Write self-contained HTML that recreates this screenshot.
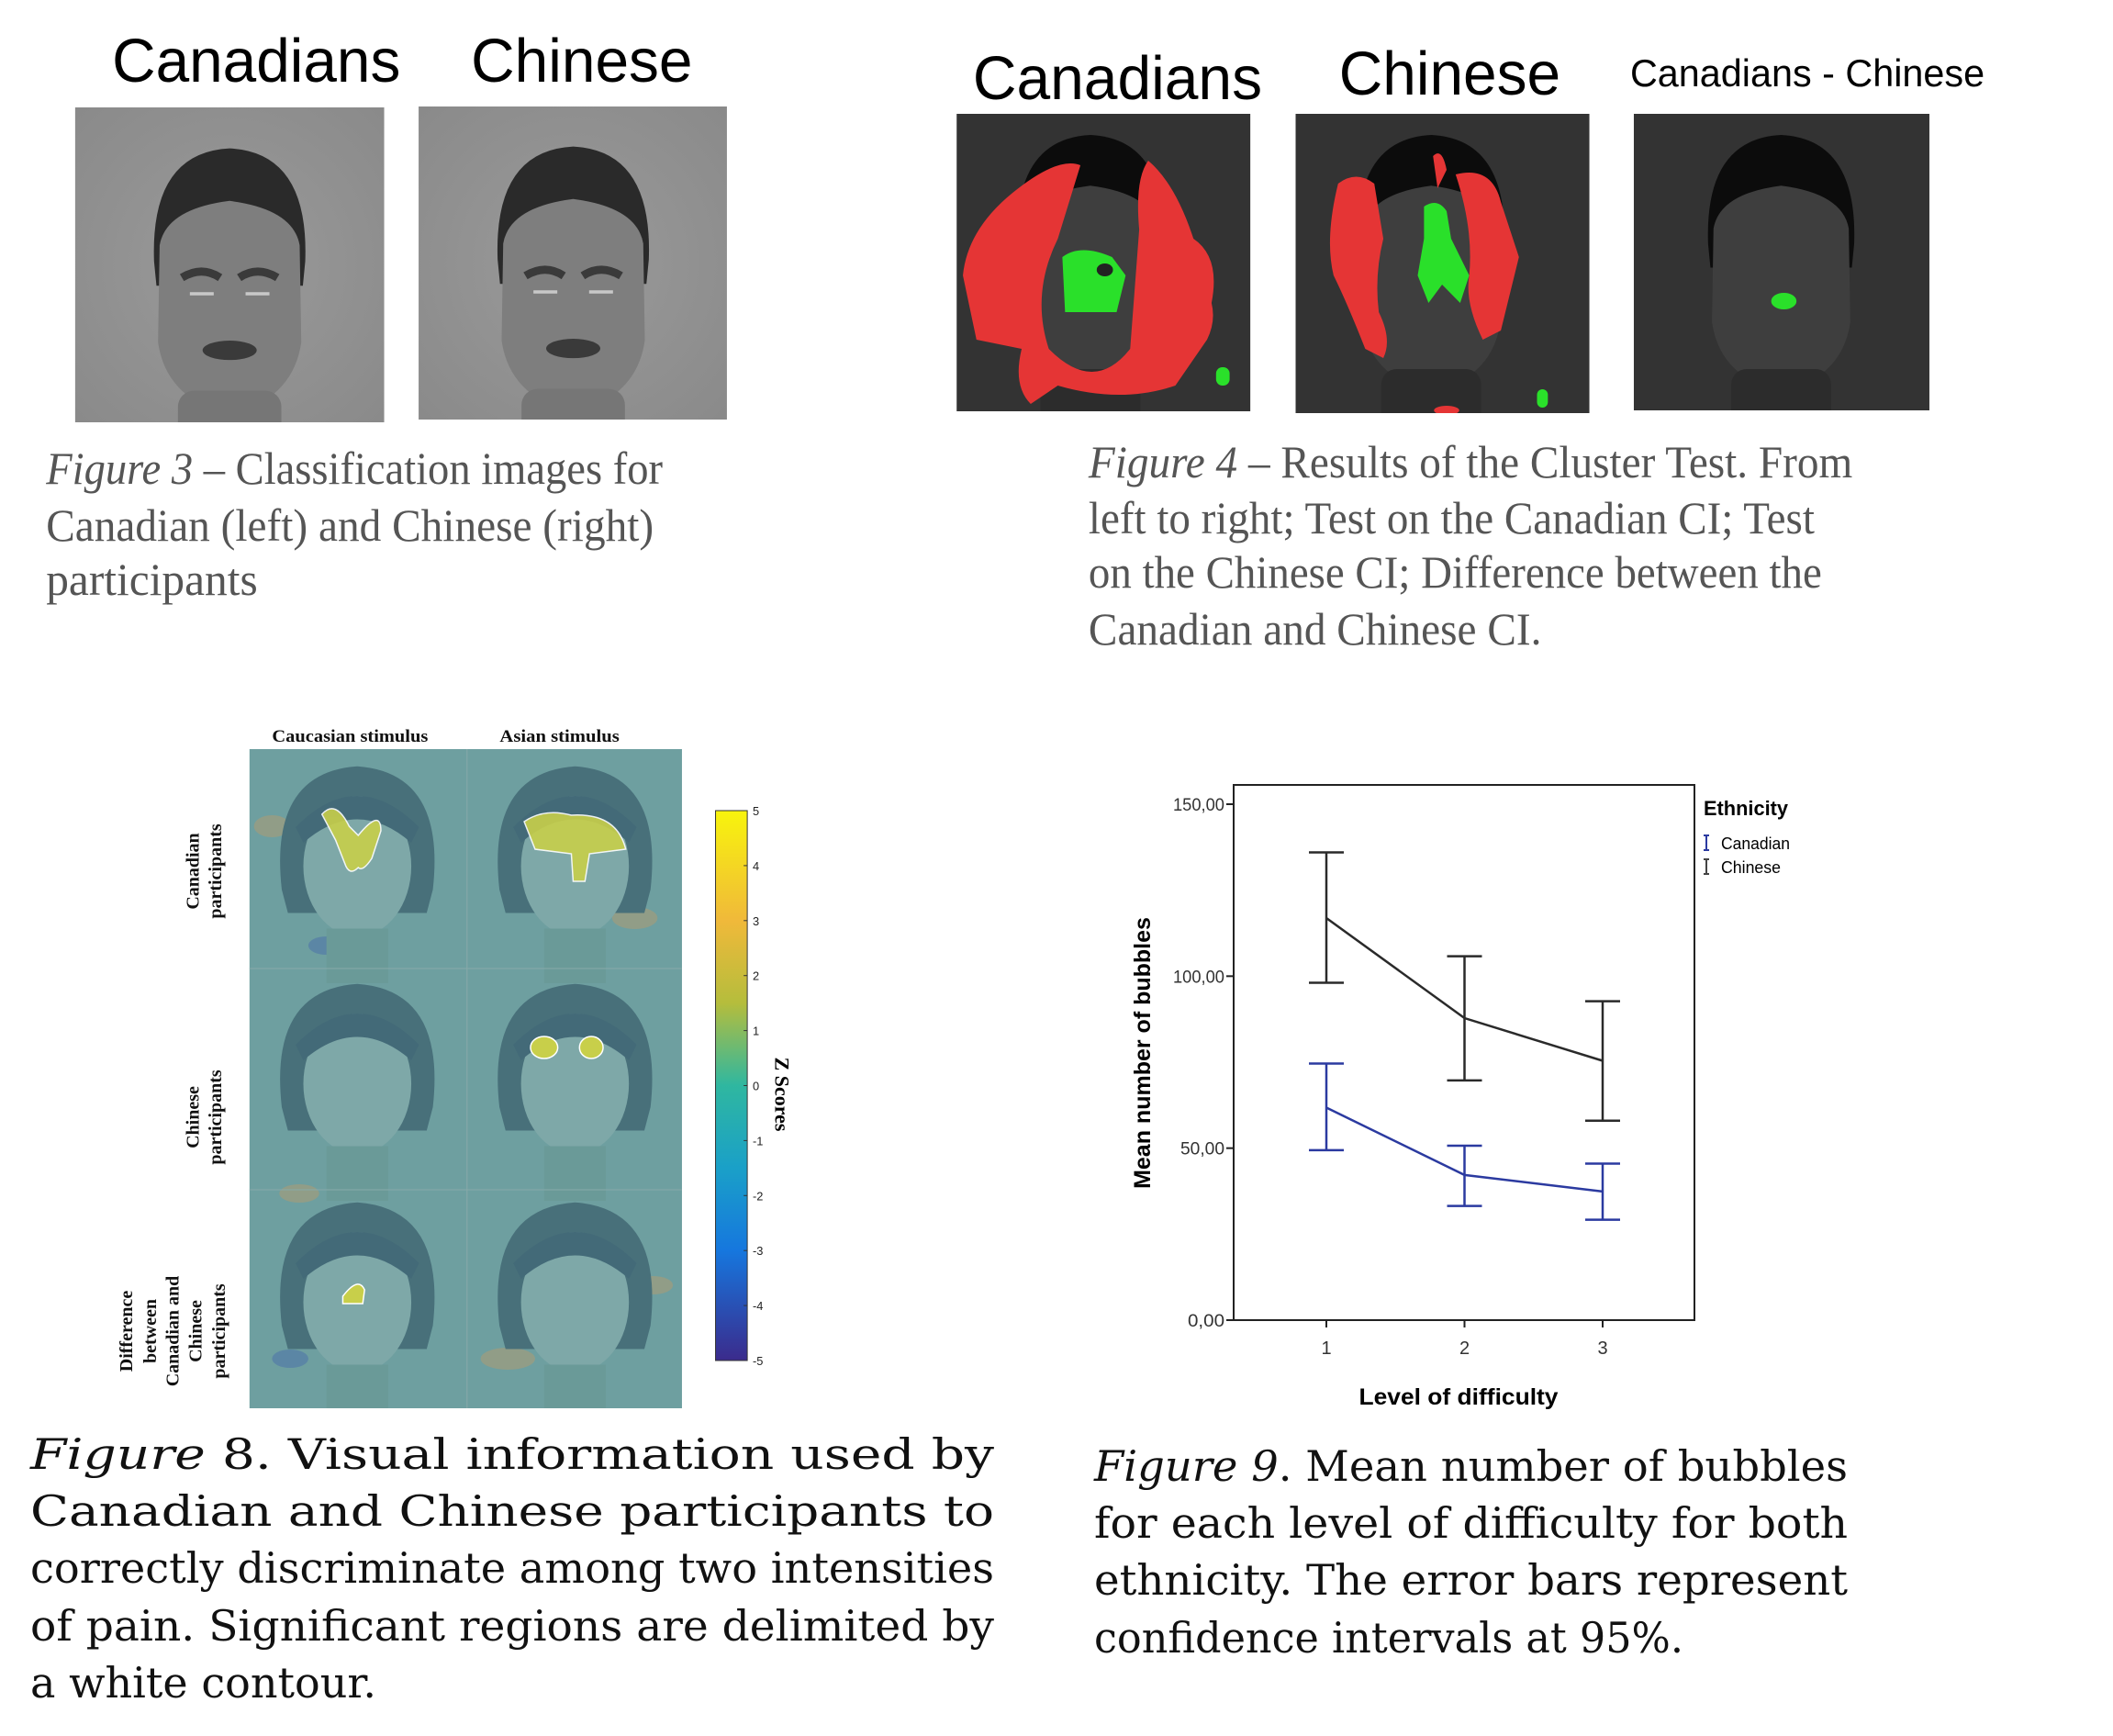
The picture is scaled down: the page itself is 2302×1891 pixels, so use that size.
<!DOCTYPE html>
<html><head><meta charset="utf-8"><style>html,body{margin:0;padding:0;background:#fff}svg{display:block}</style></head>
<body>
<svg id="page" width="2302" height="1891" viewBox="0 0 2302 1891" xmlns="http://www.w3.org/2000/svg">
<defs>
  <linearGradient id="cbar" x1="0" y1="0" x2="0" y2="1">
    <stop offset="0" stop-color="#f8f40c"/><stop offset="0.2" stop-color="#f0b93a"/><stop offset="0.35" stop-color="#b5bd3c"/>
    <stop offset="0.5" stop-color="#2fb7a0"/><stop offset="0.65" stop-color="#1aa0c8"/><stop offset="0.8" stop-color="#1677de"/><stop offset="1" stop-color="#3b2b8c"/>
  </linearGradient>
  <radialGradient id="fig3bg" cx="0.5" cy="0.5" r="0.7"><stop offset="0" stop-color="#9a9a9a"/><stop offset="1" stop-color="#8a8a8a"/></radialGradient>
  <clipPath id="c3a"><rect x="83" y="117" width="342" height="343"/></clipPath>
  <clipPath id="c3b"><rect x="463" y="116" width="341" height="341"/></clipPath>
  <clipPath id="c4a"><rect x="1058" y="124" width="325" height="324"/></clipPath>
  <clipPath id="c4b"><rect x="1433" y="124" width="325" height="326"/></clipPath>
  <clipPath id="c4c"><rect x="1807" y="124" width="327" height="323"/></clipPath>
  <clipPath id="c8"><rect x="275" y="816" width="477" height="718"/></clipPath>
  <g id="grayface">
    <path d="M-95,-40 Q-100,-175 0,-180 Q100,-175 95,-40 L92,-10 L-92,-10 Z" fill="#2a2a2a"/>
    <path d="M-88,-60 Q-80,-105 0,-115 Q80,-105 88,-60 L90,60 Q80,130 0,150 Q-80,130 -90,60 Z" fill="#7e7e7e"/>
    <rect x="-65" y="120" width="130" height="110" rx="20" fill="#767676"/>
    <path d="M-60,-20 Q-35,-35 -12,-20 M12,-20 Q35,-35 60,-20" stroke="#3a3a3a" stroke-width="10" fill="none"/>
    <path d="M-50,0 h30 M20,0 h30" stroke="#c8c8c8" stroke-width="4"/>
    <ellipse cx="0" cy="70" rx="34" ry="12" fill="#3a3a3a"/>
  </g>
  <g id="darkface">
    <path d="M-95,-40 Q-100,-175 0,-180 Q100,-175 95,-40 L92,-10 L-92,-10 Z" fill="#0c0c0c"/>
    <path d="M-88,-60 Q-80,-105 0,-115 Q80,-105 88,-60 L90,60 Q80,130 0,150 Q-80,130 -90,60 Z" fill="#3e3e3e"/>
    <rect x="-65" y="120" width="130" height="110" rx="20" fill="#2c2c2c"/>
  </g>
  <g id="hairface">
    <path d="M-98,40 Q-115,-110 0,-118 Q115,-110 98,40 L90,70 L-90,70 Z" fill="#48707a"/>
    <ellipse cx="0" cy="10" rx="70" ry="90" fill="#7ea8a8"/>
    <rect x="-40" y="90" width="80" height="70" fill="#6a9a98"/>
    <path d="M-80,-40 Q0,-120 80,-40 L70,-20 Q0,-80 -70,-20 Z" fill="#436a78"/>
  </g>
</defs>

<!-- Figure 3 -->
<g transform="scale(0.985,1)">
  <text x="124" y="89" font-family="Liberation Sans, sans-serif" font-size="67" textLength="319" lengthAdjust="spacingAndGlyphs">Canadians</text>
  <text x="521" y="89" font-family="Liberation Sans, sans-serif" font-size="67" textLength="245" lengthAdjust="spacingAndGlyphs">Chinese</text>
  <g clip-path="url(#c3a)">
    <rect x="83" y="117" width="342" height="343" fill="url(#fig3bg)"/>
    <use href="#grayface" transform="translate(254,320) scale(0.88)"/>
  </g>
  <g clip-path="url(#c3b)">
    <rect x="463" y="116" width="341" height="341" fill="url(#fig3bg)"/>
    <use href="#grayface" transform="translate(634,318) scale(0.88)"/>
  </g>
  <g font-family="Liberation Serif, serif" font-size="50" fill="#555">
    <text x="51" y="527" textLength="682" lengthAdjust="spacingAndGlyphs"><tspan font-style="italic">Figure 3</tspan> – Classification images for</text>
    <text x="51" y="589" textLength="672" lengthAdjust="spacingAndGlyphs">Canadian (left) and Chinese (right)</text>
    <text x="51" y="648" textLength="234" lengthAdjust="spacingAndGlyphs">participants</text>
  </g>
</g>

<!-- Figure 4 -->
<g transform="scale(0.985,1)">
  <text x="1076" y="108" font-family="Liberation Sans, sans-serif" font-size="67" textLength="320" lengthAdjust="spacingAndGlyphs">Canadians</text>
  <text x="1481" y="103" font-family="Liberation Sans, sans-serif" font-size="67" textLength="245" lengthAdjust="spacingAndGlyphs">Chinese</text>
  <text x="1803" y="94" font-family="Liberation Sans, sans-serif" font-size="42" textLength="392" lengthAdjust="spacingAndGlyphs">Canadians - Chinese</text>
  <g clip-path="url(#c4a)">
    <rect x="1058" y="124" width="325" height="324" fill="#333"/>
    <use href="#darkface" transform="translate(1206,300) scale(0.85)"/>
    <path d="M1120,210 Q1170,170 1195,180 L1170,260 Q1140,320 1160,380 Q1210,430 1250,380 L1260,250 Q1255,195 1270,175 Q1300,200 1320,260 Q1350,280 1340,330 Q1345,350 1335,370 L1300,420 Q1240,440 1170,420 L1140,440 Q1120,420 1130,380 L1080,370 L1065,300 Q1070,250 1120,210 Z" fill="#e53535"/>
    <path d="M1175,280 Q1195,265 1230,280 L1245,300 L1235,340 L1178,340 Z" fill="#2ae02a"/>
    <ellipse cx="1222" cy="294" rx="9" ry="7" fill="#222"/>
    <rect x="1345" y="400" width="15" height="20" rx="7" fill="#2ae02a"/>
  </g>
  <g clip-path="url(#c4b)">
    <rect x="1433" y="124" width="325" height="326" fill="#333"/>
    <use href="#darkface" transform="translate(1583,300) scale(0.85)"/>
    <path d="M1480,200 Q1500,185 1520,200 L1530,260 Q1520,300 1525,340 Q1540,370 1530,390 L1510,380 Q1490,330 1475,300 Q1465,260 1480,200 Z M1610,190 Q1650,180 1660,220 L1680,280 Q1670,320 1660,360 L1640,370 Q1620,330 1625,300 Q1630,250 1610,190 Z M1585,170 Q1595,160 1600,185 L1590,205 Z" fill="#e53535"/>
    <path d="M1575,225 Q1590,215 1600,230 L1605,260 L1625,300 L1615,330 L1595,310 L1580,330 L1568,300 L1575,260 Z" fill="#2ae02a"/>
    <rect x="1700" y="424" width="12" height="20" rx="6" fill="#2ae02a"/>
    <ellipse cx="1600" cy="447" rx="14" ry="5" fill="#e53535"/>
  </g>
  <g clip-path="url(#c4c)">
    <rect x="1807" y="124" width="327" height="323" fill="#333"/>
    <use href="#darkface" transform="translate(1970,300) scale(0.85)"/>
    <ellipse cx="1973" cy="328" rx="14" ry="9" fill="#2ae02a"/>
  </g>
  <g font-family="Liberation Serif, serif" font-size="50" fill="#555">
    <text x="1204" y="520" textLength="845" lengthAdjust="spacingAndGlyphs"><tspan font-style="italic">Figure 4</tspan> – Results of the Cluster Test. From</text>
    <text x="1204" y="581" textLength="803" lengthAdjust="spacingAndGlyphs">left to right; Test on the Canadian CI; Test</text>
    <text x="1204" y="640" textLength="811" lengthAdjust="spacingAndGlyphs">on the Chinese CI; Difference between the</text>
    <text x="1204" y="702" textLength="501" lengthAdjust="spacingAndGlyphs">Canadian and Chinese CI.</text>
  </g>
</g>

<!-- Figure 8 -->
<g>
 <g transform="scale(0.988,1)">
  <g font-family="Liberation Serif, serif" font-weight="bold" font-size="19" fill="#111">
    <text x="386" y="808" text-anchor="middle" textLength="172" lengthAdjust="spacingAndGlyphs">Caucasian stimulus</text>
    <text x="617" y="808" text-anchor="middle" textLength="132" lengthAdjust="spacingAndGlyphs">Asian stimulus</text>
  </g>
  <g clip-path="url(#c8)">
    <rect x="275" y="816" width="477" height="718" fill="#6e9fa0"/>
    <g opacity="0.35">
      <ellipse cx="300" cy="900" rx="20" ry="12" fill="#d39a5a"/><ellipse cx="700" cy="1000" rx="25" ry="12" fill="#d39a5a"/>
      <ellipse cx="330" cy="1300" rx="22" ry="10" fill="#d39a5a"/><ellipse cx="720" cy="1400" rx="22" ry="10" fill="#d39a5a"/>
      <ellipse cx="560" cy="1480" rx="30" ry="12" fill="#d39a5a"/><ellipse cx="320" cy="1480" rx="20" ry="10" fill="#3a5ab0"/>
      <ellipse cx="690" cy="1200" rx="18" ry="10" fill="#3a5ab0"/><ellipse cx="360" cy="1030" rx="20" ry="10" fill="#3a5ab0"/>
    </g>
    <use href="#hairface" transform="translate(394,935) scale(0.85)"/>
    <use href="#hairface" transform="translate(634,935) scale(0.85)"/>
    <use href="#hairface" transform="translate(394,1172) scale(0.85)"/>
    <use href="#hairface" transform="translate(634,1172) scale(0.85)"/>
    <use href="#hairface" transform="translate(394,1410) scale(0.85)"/>
    <use href="#hairface" transform="translate(634,1410) scale(0.85)"/>
    <path d="M355,887 Q370,870 385,900 L395,910 Q420,880 420,905 L410,935 Q400,950 395,945 Q385,955 380,940 L370,915 Z" fill="#c8cf4a" stroke="#fff" stroke-width="1.5" opacity="0.9"/>
    <path d="M578,895 Q600,880 630,888 Q680,885 690,925 L650,930 L645,960 L632,960 L630,930 L590,925 Z" fill="#c8cf4a" stroke="#fff" stroke-width="1.5" opacity="0.9"/>
    <ellipse cx="600" cy="1141" rx="15" ry="12" fill="#c8cf4a" stroke="#fff" stroke-width="1.5"/>
    <ellipse cx="652" cy="1141" rx="13" ry="12" fill="#c8cf4a" stroke="#fff" stroke-width="1.5"/>
    <path d="M378,1412 Q395,1390 402,1405 L400,1420 L378,1420 Z" fill="#c8cf4a" stroke="#fff" stroke-width="1.5"/>
    <path d="M275,1055 H752 M275,1296 H752 M515,816 V1534" stroke="#8aa" stroke-width="1"/>
  </g>
  <g font-family="Liberation Serif, serif" font-weight="bold" font-size="20" fill="#111">
    <text transform="translate(219,949) rotate(-90)" text-anchor="middle">Canadian</text>
    <text transform="translate(244,949) rotate(-90)" text-anchor="middle">participants</text>
    <text transform="translate(219,1217) rotate(-90)" text-anchor="middle">Chinese</text>
    <text transform="translate(244,1217) rotate(-90)" text-anchor="middle">participants</text>
    <g>
      <text transform="translate(146,1450) rotate(-90)" text-anchor="middle">Difference</text>
      <text transform="translate(172,1450) rotate(-90)" text-anchor="middle">between</text>
      <text transform="translate(197,1450) rotate(-90)" text-anchor="middle">Canadian and</text>
      <text transform="translate(222,1450) rotate(-90)" text-anchor="middle">Chinese</text>
      <text transform="translate(248,1450) rotate(-90)" text-anchor="middle">participants</text>
    </g>
  </g>
  <g>
    <rect x="789" y="883" width="35" height="599" fill="url(#cbar)" stroke="#333" stroke-width="1"/>
    <g id="cbticks" font-family="Liberation Sans, sans-serif" font-size="13" fill="#222"></g>
    <text transform="translate(855,1192) rotate(90)" text-anchor="middle" font-family="Liberation Serif, serif" font-weight="bold" font-size="22">Z Scores</text>
  </g>
 </g>
  <g font-family="DejaVu Serif, serif" font-size="46" fill="#111">
    <text x="33" y="1600" textLength="1050" lengthAdjust="spacingAndGlyphs"><tspan font-style="italic">Figure</tspan>   8.   Visual   information   used   by</text>
    <text x="33" y="1662" textLength="1050" lengthAdjust="spacingAndGlyphs">Canadian   and   Chinese   participants   to</text>
    <text x="33" y="1724" textLength="1050" lengthAdjust="spacingAndGlyphs">correctly discriminate among two intensities</text>
    <text x="33" y="1787" textLength="1050" lengthAdjust="spacingAndGlyphs">of pain. Significant regions are delimited by</text>
    <text x="33" y="1849" textLength="377" lengthAdjust="spacingAndGlyphs">a white contour.</text>
  </g>
</g>

<!-- Figure 9 chart -->
<g>
  <rect x="1344" y="855" width="502" height="583" fill="none" stroke="#222" stroke-width="2"/>
  <g id="chart"></g>
  <text transform="translate(1253,1147) rotate(-90)" text-anchor="middle" font-family="Liberation Sans, sans-serif" font-weight="bold" font-size="25">Mean number of bubbles</text>
  <text x="1589" y="1530" text-anchor="middle" font-family="Liberation Sans, sans-serif" font-weight="bold" font-size="25" textLength="217" lengthAdjust="spacingAndGlyphs">Level of difficulty</text>
  <g font-family="Liberation Sans, sans-serif">
    <text x="1856" y="888" font-size="22" font-weight="bold" textLength="92" lengthAdjust="spacingAndGlyphs">Ethnicity</text>
    <path d="M1859,910 v16 M1856,910 h6 M1856,926 h6" stroke="#2b3aa0" stroke-width="2"/>
    <text x="1875" y="925" font-size="18" textLength="75" lengthAdjust="spacingAndGlyphs">Canadian</text>
    <path d="M1859,936 v16 M1856,936 h6 M1856,952 h6" stroke="#444" stroke-width="2"/>
    <text x="1875" y="951" font-size="18" textLength="65" lengthAdjust="spacingAndGlyphs">Chinese</text>
  </g>
  <g font-family="DejaVu Serif, serif" font-size="46" fill="#111">
    <text x="1192" y="1613" textLength="821" lengthAdjust="spacingAndGlyphs"><tspan font-style="italic">Figure 9</tspan>. Mean number of bubbles</text>
    <text x="1192" y="1675" textLength="821" lengthAdjust="spacingAndGlyphs">for each level of difficulty for both</text>
    <text x="1192" y="1737" textLength="821" lengthAdjust="spacingAndGlyphs">ethnicity. The error bars represent</text>
    <text x="1192" y="1800" textLength="642" lengthAdjust="spacingAndGlyphs">confidence intervals at 95%.</text>
  </g>
</g>

<script>
const levels = ["1", "2", "3"];
const yTickValues = [0, 50, 100, 150];
const yTickLabels = ["0,00", "50,00", "100,00", "150,00"];
const chineseMean = [116.9, 87.8, 75.4];
const chineseLow = [98.1, 69.7, 58.0];
const chineseHigh = [136.0, 105.8, 92.7];
const canadianMean = [61.8, 42.2, 37.4];
const canadianLow = [49.4, 33.2, 29.2];
const canadianHigh = [74.6, 50.7, 45.5];
const zTicks = [5, 4, 3, 2, 1, 0, -1, -2, -3, -4, -5];

const NS = "http://www.w3.org/2000/svg";
const Y0 = 1438, PX_PER_UNIT = 562 / 150;
function yScale(v) { return Y0 - v * PX_PER_UNIT; }
function xScale(i) { return 1445 + i * 150.5; }
function mk(tag, attrs, parent) {
  const e = document.createElementNS(NS, tag);
  for (const k in attrs) e.setAttribute(k, attrs[k]);
  parent.appendChild(e);
  return e;
}
const chart = document.getElementById("chart");

yTickValues.forEach((v, i) => {
  const t = mk("line", {x1: 1336, x2: 1344, y1: yScale(v), y2: yScale(v), stroke: "#222", "stroke-width": 2}, chart);
  
  
  const l = mk("text", {x: 1334, y: yScale(v) + 7, "text-anchor": "end", "font-family": "Liberation Sans, sans-serif", "font-size": 19, fill: "#333", "textLength": 8 + yTickLabels[i].length * 8, lengthAdjust: "spacingAndGlyphs"}, chart);
  l.textContent = yTickLabels[i];
  
  
});
levels.forEach((lab, i) => {
  const t = mk("line", {x1: xScale(i), x2: xScale(i), y1: 1438, y2: 1446, stroke: "#222", "stroke-width": 2}, chart);
  
  
  const l = mk("text", {x: xScale(i), y: 1475, "text-anchor": "middle", "font-family": "Liberation Sans, sans-serif", "font-size": 20, fill: "#333"}, chart);
  l.textContent = lab;
  
  
});

function series(mean, low, high, color, name) {
  const pts = mean.map((v, i) => xScale(i) + "," + yScale(v)).join(" ");
  const line = mk("polyline", {points: pts, fill: "none", stroke: color, "stroke-width": 2.5}, chart);
  
  
  mean.forEach((v, i) => {
    const x = xScale(i), yl = yScale(low[i]), yh = yScale(high[i]);
    const eb = mk("path", {d: `M${x},${yh} V${yl} M${x-19},${yh} H${x+19} M${x-19},${yl} H${x+19}`, stroke: color, "stroke-width": 2.5, fill: "none"}, chart);
    
    
  });
}
series(chineseMean, chineseLow, chineseHigh, "#2a2a2a", "chinese");
series(canadianMean, canadianLow, canadianHigh, "#2b3aa0", "canadian");

const cb = document.getElementById("cbticks");
zTicks.forEach((z, i) => {
  const y = 883 + (5 - z) / 10 * 599;
  const t = mk("line", {x1: 820, x2: 824, y1: y, y2: y, stroke: "#333"}, cb);
  
  
  const l = mk("text", {x: 830, y: y + 5}, cb);
  l.textContent = String(z);
  
  
});
</script>
</svg>
</body></html>
